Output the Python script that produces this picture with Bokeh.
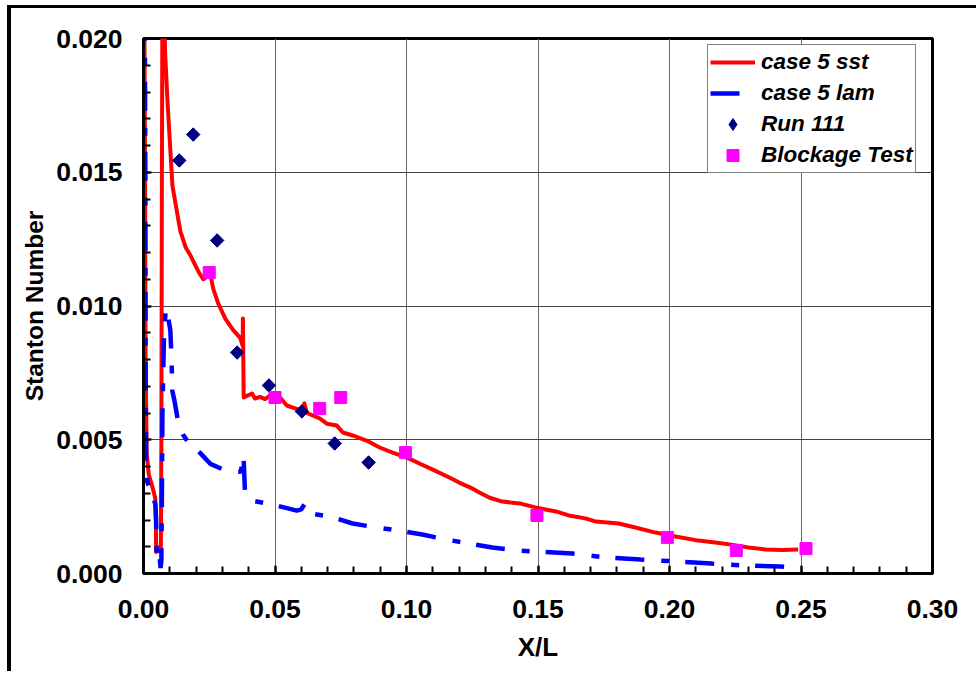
import math
from bokeh.plotting import figure
from bokeh.models import (FixedTicker, NumeralTickFormatter, Legend, LegendItem, Range1d)
from bokeh.embed import file_html
from bokeh.resources import INLINE

# ---- data ----
sst_x = [0.0003, 0.0006, 0.0008, 0.0012, 0.0020, 0.0035, 0.0045, 0.0047, 0.0048, 0.0060, 0.0066,
         0.0068, 0.0070, 0.0072, 0.0078, 0.0082, 0.0091, 0.0110, 0.0140, 0.0160, 0.0178, 0.0208,
         0.0227, 0.0242, 0.0254, 0.0265, 0.0284, 0.0311, 0.0341, 0.0367, 0.0377, 0.0378, 0.0381,
         0.0395, 0.0413, 0.0424, 0.0443, 0.0462, 0.0481, 0.0519, 0.0545, 0.0568, 0.0600, 0.0612,
         0.0621, 0.0670, 0.0697, 0.0735, 0.0758, 0.0795, 0.0848, 0.0898, 0.0947, 0.1000, 0.1049,
         0.1098, 0.1163, 0.1200, 0.1250, 0.1277, 0.1314, 0.1364, 0.1430, 0.1490, 0.1568, 0.1617,
         0.1680, 0.1720, 0.1807, 0.1870, 0.1947, 0.2023, 0.2110, 0.2174, 0.2235, 0.2300, 0.2364,
         0.2430, 0.2489]
sst_y = [0.0215, 0.0150, 0.0080, 0.0045, 0.0037, 0.0032, 0.0028, 0.0020, 0.0008, 0.0010, 0.0008,
         0.0050, 0.0150, 0.0215, 0.0215, 0.0195, 0.0177, 0.0145, 0.0128, 0.0122, 0.0119, 0.0113,
         0.0110, 0.0111, 0.0112, 0.01065, 0.0101, 0.00953, 0.0091, 0.00882, 0.00852, 0.00953, 0.00658,
         0.00665, 0.00673, 0.00654, 0.0066, 0.00652, 0.00665, 0.00658, 0.00628, 0.0062, 0.0061, 0.00636,
         0.0060, 0.0058, 0.0056, 0.00553, 0.00527, 0.00516, 0.00497, 0.00471, 0.00452, 0.00434, 0.00411,
         0.00389, 0.00359, 0.0034, 0.00318, 0.00303, 0.00284, 0.00269, 0.00262, 0.00247, 0.00232, 0.00217,
         0.00206, 0.00194, 0.00187, 0.00172, 0.00153, 0.00138, 0.00123, 0.00116, 0.00108, 0.00097, 0.0009,
         0.00088, 0.0009]

lam_x = [0.0005, 0.0007, 0.0008, 0.0010, 0.0015, 0.0030, 0.0045, 0.0048, 0.0050, 0.0058, 0.0065,
         0.0068, 0.0070, 0.0072, 0.0078, 0.0085, 0.0095, 0.0102, 0.0106, 0.0110, 0.0117, 0.0133,
         0.0150, 0.0170, 0.0216, 0.0254, 0.0300, 0.0356, 0.0370, 0.0380, 0.0382, 0.0386, 0.0400,
         0.0424, 0.0490, 0.0583, 0.0600, 0.0614, 0.0625, 0.0640, 0.0720, 0.0795, 0.0886, 0.0973,
         0.1060, 0.1150, 0.1239, 0.1326, 0.1420, 0.1500, 0.1630, 0.1758, 0.1890, 0.2027, 0.2160,
         0.2288, 0.2424, 0.2477]
lam_y = [0.0210, 0.0150, 0.0080, 0.0040, 0.0034, 0.0030, 0.0026, 0.0020, 0.0008, 0.0010, 0.0002,
         0.0005, 0.0030, 0.0060, 0.0090, 0.0099, 0.0095, 0.0091, 0.0082, 0.0068, 0.0065, 0.0056,
         0.0052, 0.0049, 0.0045, 0.0041, 0.0039, 0.0038, 0.0038, 0.0044, 0.0040, 0.0030, 0.0028,
         0.0027, 0.00258, 0.00235, 0.0024, 0.00262, 0.0024, 0.00224, 0.0021, 0.00187, 0.00172, 0.0016,
         0.00146, 0.00127, 0.00112, 0.00097, 0.00086, 0.00082, 0.00075, 0.0006, 0.00052, 0.00045, 0.00037,
         0.0003, 0.00026, 0.00022]

run111_x = [0.0136, 0.0189, 0.0280, 0.0356, 0.0477, 0.0602, 0.0727, 0.0856]
run111_y = [0.01544, 0.01641, 0.01245, 0.00826, 0.00703, 0.00606, 0.00486, 0.00415]

block_x = [0.0250, 0.0500, 0.0670, 0.0750, 0.0996, 0.1496, 0.1992, 0.2254, 0.2519]
block_y = [0.01125, 0.00658, 0.00617, 0.00658, 0.00452, 0.00217, 0.00135, 0.00086, 0.00093]

labels = ["case 5 sst", "case 5 lam", "Run 111", "Blockage Test"]

x_ticks = [0.0, 0.05, 0.10, 0.15, 0.20, 0.25, 0.30]
y_ticks = [0.0, 0.005, 0.010, 0.015, 0.020]

FONT = "Liberation Sans"

p = figure(output_backend="svg", toolbar_location=None,
           frame_width=789, frame_height=535,
           min_border_left=132, min_border_top=30, min_border_right=44, min_border_bottom=98,
           x_range=Range1d(0, 0.30), y_range=Range1d(0, 0.020))
p.styles = {"margin-left": "7px", "margin-top": "5px",
            "border-left": "4px solid black", "border-top": "3px solid black"}
p.background_fill_color = "white"
p.border_fill_color = "white"
p.outline_line_color = "black"
p.outline_line_width = 3

p.xaxis.ticker = FixedTicker(ticks=x_ticks,
                             minor_ticks=[round(i * 0.01, 3) for i in range(31)])
p.yaxis.ticker = FixedTicker(ticks=y_ticks,
                             minor_ticks=[round(i * 0.001, 4) for i in range(21)])
p.xaxis.formatter = NumeralTickFormatter(format="0.00")
p.yaxis.formatter = NumeralTickFormatter(format="0.000")

for ax in (p.xaxis[0], p.yaxis[0]):
    ax.axis_line_width = 3
    ax.axis_line_color = "black"
    ax.major_tick_in = 8
    ax.major_tick_out = 0
    ax.minor_tick_in = 7
    ax.minor_tick_out = 0
    ax.major_tick_line_width = 2
    ax.minor_tick_line_width = 2
    ax.major_label_text_font = FONT
    ax.major_label_text_font_size = "26.5px"
    ax.major_label_text_font_style = "bold"
    ax.major_label_text_color = "black"
    ax.axis_label_text_font = FONT
    ax.axis_label_text_font_style = "bold"
    ax.axis_label_text_color = "black"

p.xaxis.axis_label = "X/L"
p.xaxis.axis_label_text_font_size = "26px"
p.xaxis.major_label_standoff = 26
p.xaxis.axis_label_standoff = 11
p.yaxis.axis_label = "Stanton Number"
p.yaxis.axis_label_text_font_size = "24.5px"
p.yaxis.major_label_standoff = 21
p.yaxis.axis_label_standoff = 5

p.xgrid.grid_line_color = "#666666"
p.ygrid.grid_line_color = "#444444"
p.xgrid.grid_line_width = 1
p.ygrid.grid_line_width = 1

r_sst = p.line(sst_x, sst_y, line_color="#ff0000", line_width=4, line_join="round")
r_lam = p.line(lam_x, lam_y, line_color="#0000ff", line_width=4.5, line_dash="29 17 8 16")
# diamond glyph (hidden under the rotated squares) used as the legend symbol
r_run_leg = p.scatter(run111_x, run111_y, marker="diamond", size=13,
                      fill_color="#000080", line_color="#000080")
r_run = p.scatter(run111_x, run111_y, marker="square", angle=math.pi / 4, size=9.5,
                  fill_color="#000080", line_color="#000080")
r_blk = p.scatter(block_x, block_y, marker="square", size=12,
                  fill_color="#ff00ff", line_color="#ff00ff")

legend = Legend(items=[LegendItem(label=labels[0], renderers=[r_sst]),
                       LegendItem(label=labels[1], renderers=[r_lam]),
                       LegendItem(label=labels[2], renderers=[r_run_leg]),
                       LegendItem(label=labels[3], renderers=[r_blk])],
                location=(564, 400))
legend.margin = 0
legend.padding = 2
legend.spacing = 1
legend.glyph_width = 45
legend.glyph_height = 30
legend.label_height = 30
legend.label_standoff = 6
legend.label_text_font = FONT
legend.label_text_font_size = "22.5px"
legend.label_text_font_style = "bold italic"
legend.label_text_color = "black"
legend.border_line_color = "black"
legend.border_line_width = 1
legend.background_fill_color = "white"
legend.background_fill_alpha = 1
p.add_layout(legend)

open("out.html", "w").write(file_html(p, INLINE))
